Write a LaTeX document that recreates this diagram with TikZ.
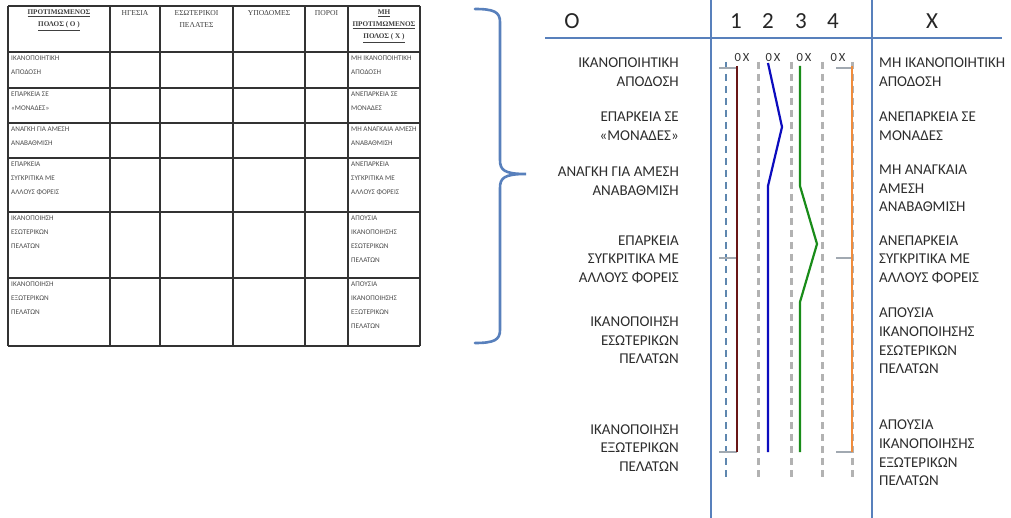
\documentclass[tikz,border=0pt]{standalone}
\usepackage{fontspec}
\setmainfont{Carlito}
\newfontfamily\tserif{Liberation Serif}
\definecolor{axblue}{RGB}{88,128,188}
\definecolor{dshblue}{RGB}{95,135,175}
\definecolor{dshgray}{RGB}{178,178,178}
\definecolor{cbrown}{RGB}{105,22,22}
\definecolor{cblue}{RGB}{12,12,190}
\definecolor{cgreen}{RGB}{25,140,25}
\definecolor{corange}{RGB}{240,140,60}
\definecolor{txt}{RGB}{45,45,45}
\tikzset{
  tbl/.style={draw=black!80, line width=1.4pt},
  tbody/.style={anchor=north west, align=left, font=\fontsize{7.2}{14}\selectfont, text=black!70, inner sep=0pt},
  thead/.style={anchor=north, align=center, font=\tserif\fontsize{7.6}{12}\selectfont, text=black!75, inner sep=0pt},
  theadb/.style={thead, font=\tserif\bfseries\fontsize{7.2}{12}\selectfont},
  labl/.style={anchor=east, align=right, font=\fontsize{15}{18.6}\selectfont, text=txt, inner sep=0pt},
  labr/.style={anchor=west, align=left, font=\fontsize{15}{18.6}\selectfont, text=txt, inner sep=0pt},
  bigl/.style={font=\fontsize{23}{26}\selectfont, text=black!85, inner sep=0pt},
  oxl/.style={font=\fontsize{12.5}{14}\selectfont, text=black!80, inner sep=0pt},
  axisln/.style={draw=axblue, line width=2.2pt},
  bracel/.style={draw=axblue, line width=2.6pt, line cap=round},
  dblue/.style={draw=dshblue, line width=2.6pt, dash pattern=on 7pt off 5pt},
  dgray/.style={draw=dshgray, line width=3pt, dash pattern=on 7pt off 5pt},
  tickl/.style={draw=dshgray!80!dshblue, line width=2.4pt},
  serie/.style={line width=2.2pt, line join=round}
}
\begin{document}
\begin{tikzpicture}[x=1pt,y=-1pt]
\useasboundingbox (0,0) rectangle (1011,518);
\fill[white] (0,0) rectangle (1011,518);

% ---------- table ----------
\foreach \yy in {6,52,88,123,158,212,278,346} \draw[tbl] (8,\yy) -- (420,\yy);
\foreach \xx in {8,110,160,233,305,348,420} \draw[tbl] (\xx,6) -- (\xx,346);

\node[theadb] (h1) at (59,10) {\underline{ΠΡΟΤΙΜΩΜΕΝΟΣ}\\\underline{ΠΟΛΟΣ ( Ο )}};
\node[thead] (h2) at (135,10) {ΗΓΕΣΙΑ};
\node[thead] (h3) at (196.5,10) {ΕΣΩΤΕΡΙΚΟΙ\\ΠΕΛΑΤΕΣ};
\node[thead] (h4) at (269,10) {ΥΠΟΔΟΜΕΣ};
\node[thead] (h5) at (326.5,10) {ΠΟΡΟΙ};
\node[theadb] (h6) at (384,10) {\underline{ΜΗ}\\\underline{ΠΡΟΤΙΜΩΜΕΝΟΣ}\\\underline{ΠΟΛΟΣ ( Χ )}};

\node[tbody] (l1) at (11,56) {ΙΚΑΝΟΠΟΙΗΤΙΚΗ\\ΑΠΟΔΟΣΗ};
\node[tbody] (l2) at (11,92) {ΕΠΑΡΚΕΙΑ ΣΕ\\«ΜΟΝΑΔΕΣ»};
\node[tbody] (l3) at (11,127) {ΑΝΑΓΚΗ ΓΙΑ ΑΜΕΣΗ\\ΑΝΑΒΑΘΜΙΣΗ};
\node[tbody] (l4) at (11,162) {ΕΠΑΡΚΕΙΑ\\ΣΥΓΚΡΙΤΙΚΑ ΜΕ\\ΑΛΛΟΥΣ ΦΟΡΕΙΣ};
\node[tbody] (l5) at (11,216) {ΙΚΑΝΟΠΟΙΗΣΗ\\ΕΣΩΤΕΡΙΚΩΝ\\ΠΕΛΑΤΩΝ};
\node[tbody] (l6) at (11,282) {ΙΚΑΝΟΠΟΙΗΣΗ\\ΕΞΩΤΕΡΙΚΩΝ\\ΠΕΛΑΤΩΝ};

\node[tbody] (r1) at (351,56) {ΜΗ ΙΚΑΝΟΠΟΙΗΤΙΚΗ\\ΑΠΟΔΟΣΗ};
\node[tbody] (r2) at (351,92) {ΑΝΕΠΑΡΚΕΙΑ ΣΕ\\ΜΟΝΑΔΕΣ};
\node[tbody] (r3) at (351,127) {ΜΗ ΑΝΑΓΚΑΙΑ ΑΜΕΣΗ\\ΑΝΑΒΑΘΜΙΣΗ};
\node[tbody] (r4) at (351,162) {ΑΝΕΠΑΡΚΕΙΑ\\ΣΥΓΚΡΙΤΙΚΑ ΜΕ\\ΑΛΛΟΥΣ ΦΟΡΕΙΣ};
\node[tbody] (r5) at (351,216) {ΑΠΟΥΣΙΑ\\ΙΚΑΝΟΠΟΙΗΣΗΣ\\ΕΣΩΤΕΡΙΚΩΝ\\ΠΕΛΑΤΩΝ};
\node[tbody] (r6) at (351,282) {ΑΠΟΥΣΙΑ\\ΙΚΑΝΟΠΟΙΗΣΗΣ\\ΕΞΩΤΕΡΙΚΩΝ\\ΠΕΛΑΤΩΝ};

% ---------- brace ----------
\draw[bracel] (475,9) .. controls (494,9) and (500,12) .. (500,22)
  -- (500,160) .. controls (500,170) and (504,174) .. (526,174)
  .. controls (504,174) and (500,178) .. (500,188)
  -- (500,330) .. controls (500,340) and (494,343) .. (475,343);

% ---------- chart axes ----------
\draw[axisln] (545,38) -- (1002,38);
\draw[axisln] (711,0) -- (711,518);
\draw[axisln] (872,0) -- (872,518);

\node[bigl] (O) at (572,21) {O};
\node[bigl] (n1) at (736,21) {1};
\node[bigl] (n2) at (768,21) {2};
\node[bigl] (n3) at (801,21) {3};
\node[bigl] (n4) at (833,21) {4};
\node[bigl] (X) at (932,21) {X};

\foreach \cx/\nm in {742/a,773/b,804/c,838/d} \node[oxl] (ox\nm) at (\cx,57) {0\,X};

% dashed guides
\draw[dblue] (726,62) -- (726,480);
\foreach \gx in {758,791,822,852} \draw[dgray] (\gx,62) -- (\gx,480);

% ticks
\foreach \ty in {68,258,452} {
  \draw[tickl] (719,\ty) -- (737,\ty);
  \draw[tickl] (836,\ty) -- (852,\ty);
}

% series
\coordinate (b0) at (737,66);  \coordinate (b1) at (737,452);
\coordinate (u0) at (768,63);  \coordinate (u1) at (782,127); \coordinate (u2) at (768,186); \coordinate (u3) at (768,452);
\coordinate (g0) at (800,66);  \coordinate (g1) at (800,186); \coordinate (g2) at (817,244); \coordinate (g3) at (800,302); \coordinate (g4) at (800,452);
\coordinate (o0) at (852,66);  \coordinate (o1) at (852,452);
\draw[serie, draw=cbrown] (b0) -- (b1);
\draw[serie, draw=cblue] (u0) -- (u1) -- (u2) -- (u3);
\draw[serie, draw=cgreen] (g0) -- (g1) -- (g2) -- (g3) -- (g4);
\draw[serie, draw=corange] (o0) -- (o1);

% left labels
\node[labl] (L1) at (679,72) {ΙΚΑΝΟΠΟΙΗΤΙΚΗ\\ΑΠΟΔΟΣΗ};
\node[labl] (L2) at (679,126) {ΕΠΑΡΚΕΙΑ ΣΕ\\«ΜΟΝΑΔΕΣ»};
\node[labl] (L3) at (679,181) {ΑΝΑΓΚΗ ΓΙΑ ΑΜΕΣΗ\\ΑΝΑΒΑΘΜΙΣΗ};
\node[labl] (L4) at (679,259.5) {ΕΠΑΡΚΕΙΑ\\ΣΥΓΚΡΙΤΙΚΑ ΜΕ\\ΑΛΛΟΥΣ ΦΟΡΕΙΣ};
\node[labl] (L5) at (679,340.5) {ΙΚΑΝΟΠΟΙΗΣΗ\\ΕΣΩΤΕΡΙΚΩΝ\\ΠΕΛΑΤΩΝ};
\node[labl] (L6) at (679,448) {ΙΚΑΝΟΠΟΙΗΣΗ\\ΕΞΩΤΕΡΙΚΩΝ\\ΠΕΛΑΤΩΝ};

% right labels
\node[labr] (R1) at (879,72) {ΜΗ ΙΚΑΝΟΠΟΙΗΤΙΚΗ\\ΑΠΟΔΟΣΗ};
\node[labr] (R2) at (879,126) {ΑΝΕΠΑΡΚΕΙΑ ΣΕ\\ΜΟΝΑΔΕΣ};
\node[labr] (R3) at (879,188.5) {ΜΗ ΑΝΑΓΚΑΙΑ\\ΑΜΕΣΗ\\ΑΝΑΒΑΘΜΙΣΗ};
\node[labr] (R4) at (879,259.5) {ΑΝΕΠΑΡΚΕΙΑ\\ΣΥΓΚΡΙΤΙΚΑ ΜΕ\\ΑΛΛΟΥΣ ΦΟΡΕΙΣ};
\node[labr] (R5) at (879,341) {ΑΠΟΥΣΙΑ\\ΙΚΑΝΟΠΟΙΗΣΗΣ\\ΕΣΩΤΕΡΙΚΩΝ\\ΠΕΛΑΤΩΝ};
\node[labr] (R6) at (879,453) {ΑΠΟΥΣΙΑ\\ΙΚΑΝΟΠΟΙΗΣΗΣ\\ΕΞΩΤΕΡΙΚΩΝ\\ΠΕΛΑΤΩΝ};
\end{tikzpicture}
\end{document}
